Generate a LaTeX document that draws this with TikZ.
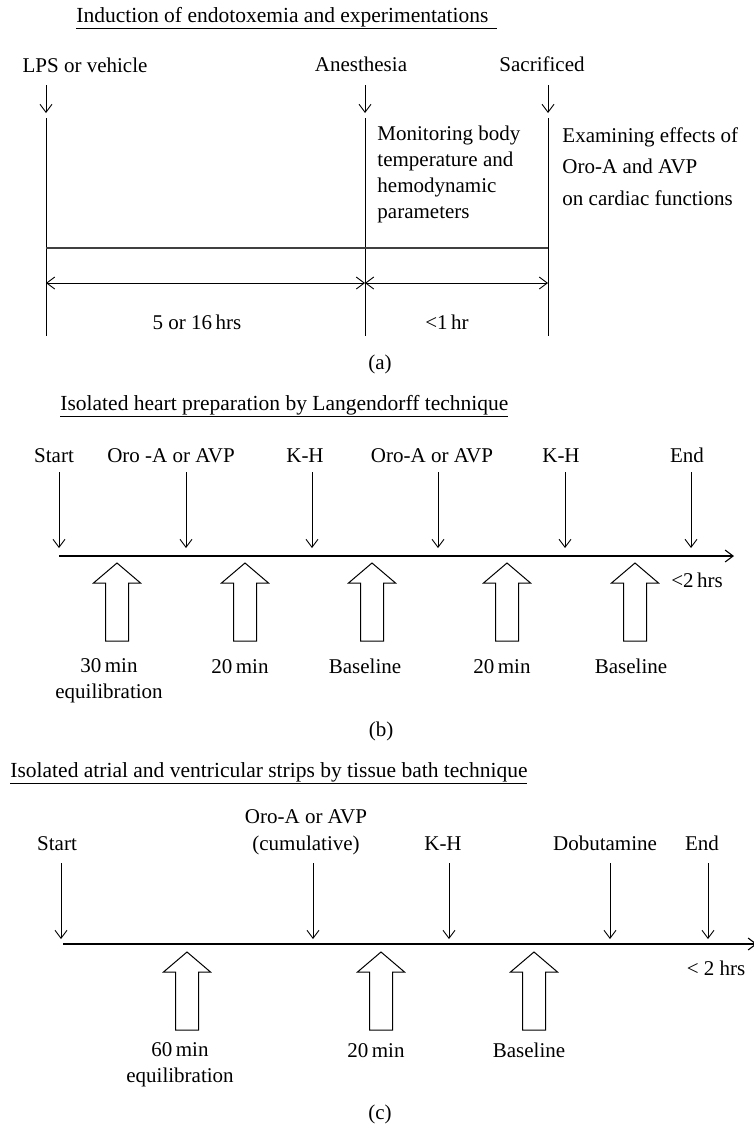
\documentclass[tikz,border=0pt]{standalone}
\usepackage{fontspec}
\setmainfont{Liberation Serif}
\usetikzlibrary{arrows.meta}

\begin{document}
\begin{tikzpicture}[x=1pt,y=-1pt,line width=0.9pt]
      \tikzset{>={Straight Barb[length=8pt,width=12pt]}} % open arrow heads
      \tikzset{
        lbl/.style={anchor=base,inner sep=0,font=\fontsize{21}{26}\selectfont},
        twoline/.style={lbl,align=center,font=\fontsize{21}{26}\selectfont}, % base = last line
        ttl/.style={lbl,anchor=base west,font=\fontsize{21.5}{26}\selectfont},
        axis/.style={->,line width=1.1pt},
        blockarr/.style={line width=1pt,fill=white},
      }

      % hollow block arrow pointing up, tip at (#1,#2)
      \def\uparr#1#2{\draw[blockarr] (#1,#2) --++ (23.5,20) --++ (-12,0) --++ (0,58)
        --++ (-23,0) --++ (0,-58) --++ (-12,0) -- cycle;}

      \useasboundingbox (0,0) rectangle (754,1130);

      % (a) ENDOTOXEMIA
      \node[ttl] (ttla) at (76,22)
        {\underline{Induction of endotoxemia and experimentations\hspace*{9pt}}};
      \node[lbl] (lps) at (85,72) {LPS or vehicle};
      \node[lbl] (anes) at (361,71) {Anesthesia};
      \node[lbl] (sacr) at (542,71) {Sacrificed};
      \foreach \x/\n in {46/1,365/2,548/3}{
        \coordinate (at\n) at (\x,85);
        \coordinate (ah\n) at (\x,113);
        \draw[->] (at\n) -- (ah\n);
        \coordinate (vt\n) at (\x,118);
        \coordinate (vb\n) at (\x,336);
        \draw (vt\n) -- (vb\n);
      }
      \coordinate (mid) at (0,248);
      \coordinate (dur) at (0,283);
      \draw[line width=1.3pt,black!75] (vt1 |- mid) -- (vt3 |- mid);
      \draw[<->] (vt1 |- dur) -- (vt2 |- dur);
      \draw[<->] (vt2 |- dur) -- (vt3 |- dur);

      \node[lbl,anchor=base west,align=left] (moni) at (377,218)
        {Monitoring body\\temperature and\\hemodynamic\\parameters};
      \node[lbl,anchor=base west,align=left,font=\fontsize{21}{31.5}\selectfont] (exam) at (562,205)
        {Examining effects of\\Oro-A and AVP\\on cardiac functions};
      \node[lbl] (dura) at (197,329) {5 or 16\,hrs};
      \node[lbl] (durb) at (447,329) {<1\,hr};
      \node[lbl] (capa) at (380,369) {(a)};

      % (b) LANGENDORFF
      \node[ttl] (ttlb) at (60,410)
        {\underline{Isolated heart preparation by Langendorff technique}};
      \foreach \x/\lab in {54/Start,171/Oro -A or AVP,305/K-H,432/Oro-A or AVP,561/K-H,687/End}
        \node[lbl] at (\x,462) {\lab};
      \foreach \x/\n in {59/1,186/2,312/3,438/4,565/5,691/6}{
        \coordinate (bt\n) at (\x,472);
        \coordinate (bh\n) at (\x,548);
        \draw[->] (bt\n) -- (bh\n);
      }
      \coordinate (bs) at (59,556);
      \coordinate (be) at (734,556);
      \draw[axis] (bs) -- (be);
      \foreach \x in {117,245,372,507,635}{\uparr{\x}{563}}
      \node[lbl] (btot) at (697,587) {<2\,hrs};
      \node[twoline] (bw1) at (109,698) {30\,min\\equilibration};
      \foreach \x/\lab in {240/20\,min,365/Baseline,502/20\,min,631/Baseline}
        \node[lbl] at (\x,673) {\lab};
      \node[lbl] (capb) at (381,736) {(b)};

      % (c) TISSUE BATH
      \node[ttl] (ttlc) at (10,777)
        {\underline{Isolated atrial and ventricular strips by tissue bath technique}};
      \node[twoline,font=\fontsize{21}{27}\selectfont] (cdrug) at (306,850) {Oro-A or AVP\\(cumulative)};
      \foreach \x/\lab in {57/Start,443/K-H,605/Dobutamine,702/End}
        \node[lbl] at (\x,850) {\lab};
      \foreach \x/\n in {61/1,313/2,449/3,610/4,708/5}{
        \coordinate (ct\n) at (\x,863);
        \coordinate (ch\n) at (\x,939);
        \draw[->] (ct\n) -- (ch\n);
      }
      \coordinate (cs) at (63,944);
      \coordinate (ce) at (757,944);
      \draw[axis] (cs) -- (ce);
      \foreach \x in {187,381,534}{\uparr{\x}{952}}
      \node[lbl] (ctot) at (716,975) {< 2 hrs};
      \node[twoline] (cw1) at (180,1082) {60\,min\\equilibration};
      \foreach \x/\lab in {376/20\,min,529/Baseline}
        \node[lbl] at (\x,1057) {\lab};
      \node[lbl] (capc) at (380,1119) {(c)};

\end{tikzpicture}
\end{document}
